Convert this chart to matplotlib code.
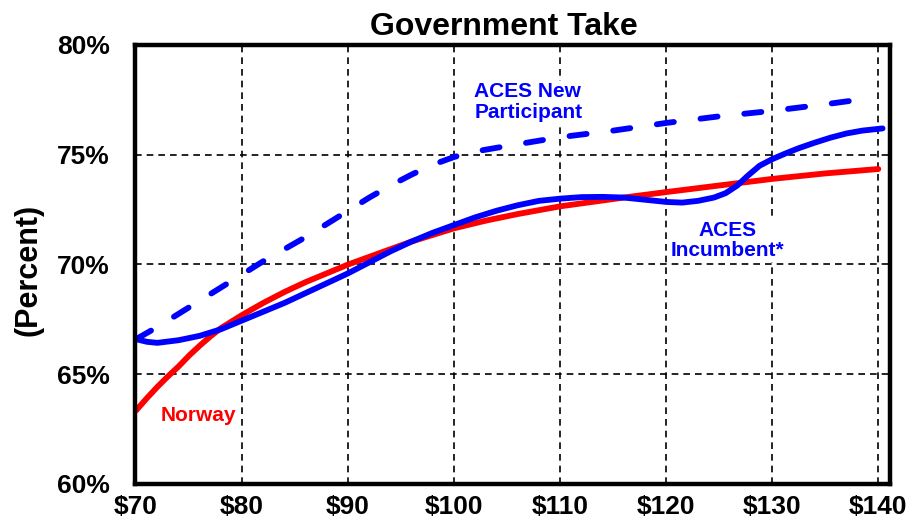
import numpy as np
import matplotlib
matplotlib.use("Agg")
import matplotlib.pyplot as plt

plt.rcParams['font.family'] = ['Liberation Sans', 'DejaVu Sans']
plt.rcParams['font.weight'] = 'bold'

# oil price ($/bbl) and government take (%)
norway_x = [70, 71, 72, 73, 74, 75, 76, 77, 78, 80, 82, 84, 86, 88, 90, 92, 94, 96, 98, 100,
            103, 106, 110, 113, 116, 120, 125, 130, 135, 140]
norway_y = [63.35, 63.9, 64.42, 64.9, 65.35, 65.85, 66.3, 66.72, 67.1, 67.7, 68.25, 68.75, 69.2,
            69.6, 70.0, 70.35, 70.7, 71.05, 71.35, 71.65, 72.0, 72.3, 72.65, 72.85, 73.05, 73.3,
            73.6, 73.9, 74.15, 74.35]

incumbent_x = [70, 71, 72, 74, 76, 78, 80, 82, 84, 86, 88, 90, 92, 94, 96, 98, 100, 102, 104,
               106, 108, 110, 112, 114, 116, 118, 120, 121.5, 123, 124.5, 125.6, 126.7, 127.7,
               128.8, 130, 131.2, 132.5, 134, 135.5, 137, 138.5, 140.4]
incumbent_y = [66.6, 66.48, 66.43, 66.55, 66.75, 67.05, 67.45, 67.85, 68.25, 68.7, 69.15, 69.6,
               70.1, 70.6, 71.05, 71.45, 71.8, 72.15, 72.45, 72.7, 72.9, 73.0, 73.07, 73.08,
               73.05, 72.95, 72.85, 72.82, 72.9, 73.05, 73.25, 73.6, 74.05, 74.5, 74.8, 75.05,
               75.3, 75.55, 75.78, 75.97, 76.1, 76.2]

newpart_x = [70, 72, 74, 76, 78, 80, 82, 84, 86, 88, 90, 92, 94, 96, 98, 100, 102, 105, 110,
             115, 120, 125, 130, 135, 139.6]
newpart_y = [66.6, 67.15, 67.75, 68.35, 68.95, 69.55, 70.15, 70.7, 71.25, 71.85, 72.45, 73.05,
             73.6, 74.1, 74.55, 74.9, 75.15, 75.4, 75.8, 76.1, 76.45, 76.75, 77.0, 77.3, 77.6]

xticks = [70, 80, 90, 100, 110, 120, 130, 140]
yticks = [60, 65, 70, 75, 80]

fig = plt.figure(figsize=(9.22, 5.26), dpi=100)
ax = fig.add_axes([135/922, 1 - 484/526, (890 - 135)/922, (484 - 45)/526])

# grid
for gx in xticks[1:]:
    ax.axvline(gx, color='black', lw=1.2, ls=(0, (4, 3)), zorder=1)
for gy in [65, 70, 75]:
    ax.axhline(gy, color='black', lw=1.2, ls=(0, (4, 3)), zorder=1)

ax.plot(norway_x, norway_y, color='#ff0000', lw=4.2, solid_capstyle='round',
        solid_joinstyle='round', zorder=3)
ax.plot(newpart_x, newpart_y, color='#0000ff', lw=4.2, dashes=(2.95, 4.6),
        dash_capstyle='round', zorder=4)
ax.plot(incumbent_x, incumbent_y, color='#0000ff', lw=4.2, solid_capstyle='round',
        solid_joinstyle='round', zorder=4)

ax.text(101.9, 77.4, 'ACES New\nParticipant', color='#0000ff', fontsize=15, fontweight='bold',
        ha='left', va='center', linespacing=1.1, zorder=2,
        bbox=dict(facecolor='white', edgecolor='none', pad=1))
ax.text(125.8, 71.1, 'ACES\nIncumbent*', color='#0000ff', fontsize=15, fontweight='bold',
        ha='center', va='center', multialignment='center', linespacing=1.1, zorder=2,
        bbox=dict(facecolor='white', edgecolor='none', pad=1))
ax.text(72.3, 63.1, 'Norway', color='#ff0000', fontsize=15, fontweight='bold',
        ha='left', va='center', zorder=2)

ax.set_xlim(69.9, 141.1)
ax.set_ylim(60, 80)
ax.set_xticks(xticks)
ax.set_xticklabels(['$%d' % v for v in xticks])
ax.set_yticks(yticks)
ax.set_yticklabels(['%d%%' % v for v in yticks])
ax.tick_params(length=0, labelsize=19)
ax.tick_params(axis='y', pad=18)
ax.tick_params(axis='x', pad=8)
for s in ax.spines.values():
    s.set_linewidth(3.2)
    s.set_zorder(5)

fig.text(504/922, 1 - 35/526, 'Government Take', fontsize=23, fontweight='bold',
         ha='center', va='baseline')
fig.text(28.5/922, 1 - 270/526, '(Percent)', fontsize=22, fontweight='bold',
         rotation=90, ha='center', va='center')

fig.savefig('out.png', dpi=100)
